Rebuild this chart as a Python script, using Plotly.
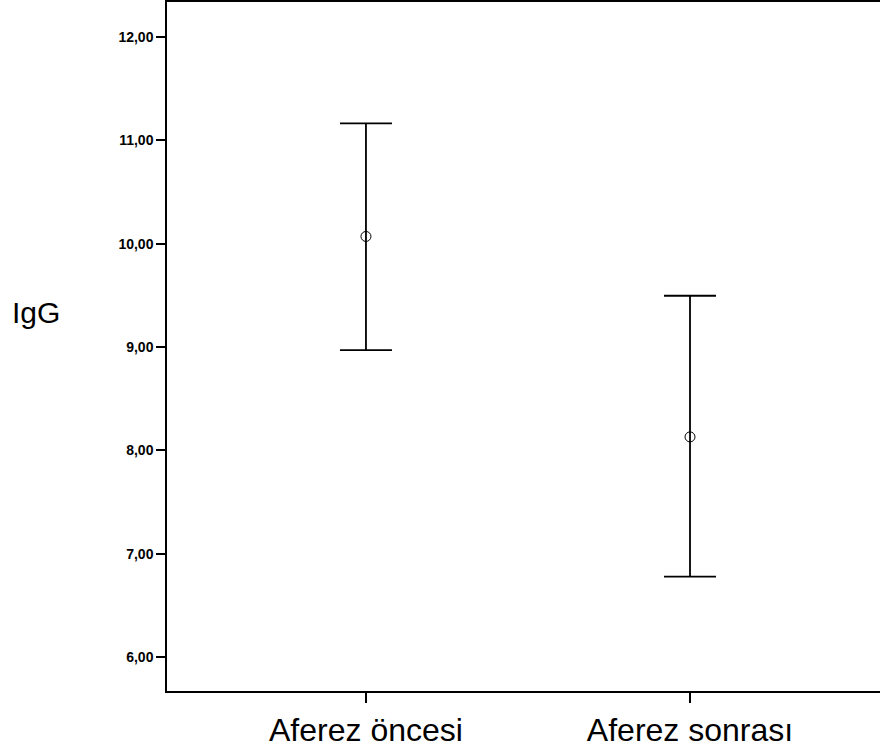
import plotly.graph_objects as go

categories = ["Aferez öncesi", "Aferez sonrası"]
means = [10.07, 8.13]
upper = [11.165, 9.496]
lower = [8.97, 6.777]
y_ticks = [6, 7, 8, 9, 10, 11, 12]
y_tick_labels = ["6,00", "7,00", "8,00", "9,00", "10,00", "11,00", "12,00"]

xpos = list(range(len(categories)))
err_plus = [u - m for u, m in zip(upper, means)]
err_minus = [m - l for m, l in zip(means, lower)]

fig = go.Figure()
fig.add_trace(go.Scatter(
    x=xpos, y=means, mode="markers",
    marker=dict(symbol="circle-open", size=10, color="black", line=dict(width=1, color="black")),
    error_y=dict(type="data", symmetric=False, array=err_plus, arrayminus=err_minus,
                 color="black", thickness=1.8, width=26),
    showlegend=False, hoverinfo="skip",
))

W = 888
pw, ph = W - 167, 752 - 2 - 61

fig.update_layout(
    width=W, height=752,
    margin=dict(l=167, r=0, t=2, b=61),
    paper_bgcolor="white", plot_bgcolor="white",
    font=dict(family="Liberation Sans, Arial, sans-serif", color="black"),
    xaxis=dict(
        range=[-0.614, 1.611], tickvals=xpos, ticktext=categories,
        showgrid=False, zeroline=False,
        showline=True, linecolor="black", linewidth=1.5, mirror=True,
        ticks="outside", ticklen=10, tickwidth=1.5, tickcolor="black",
        tickfont=dict(size=32, color="black"),
    ),
    yaxis=dict(
        range=[5.671, 12.339], tickvals=y_ticks, ticktext=y_tick_labels,
        showgrid=False, zeroline=False,
        showline=True, linecolor="black", linewidth=1.5,
        ticks="outside", ticklen=9, tickwidth=1.5, tickcolor="black",
        tickfont=dict(size=14, color="black", weight="bold"),
        ticklabelstandoff=0,
    ),
    annotations=[
        dict(
            text="IgG", x=(36 - 167) / pw, y=(691 - 312) / ph, xref="paper", yref="paper",
            showarrow=False, font=dict(size=30, color="black"),
            xanchor="center", yanchor="middle",
        ),
    ],
)

fig.write_html("out.html")
